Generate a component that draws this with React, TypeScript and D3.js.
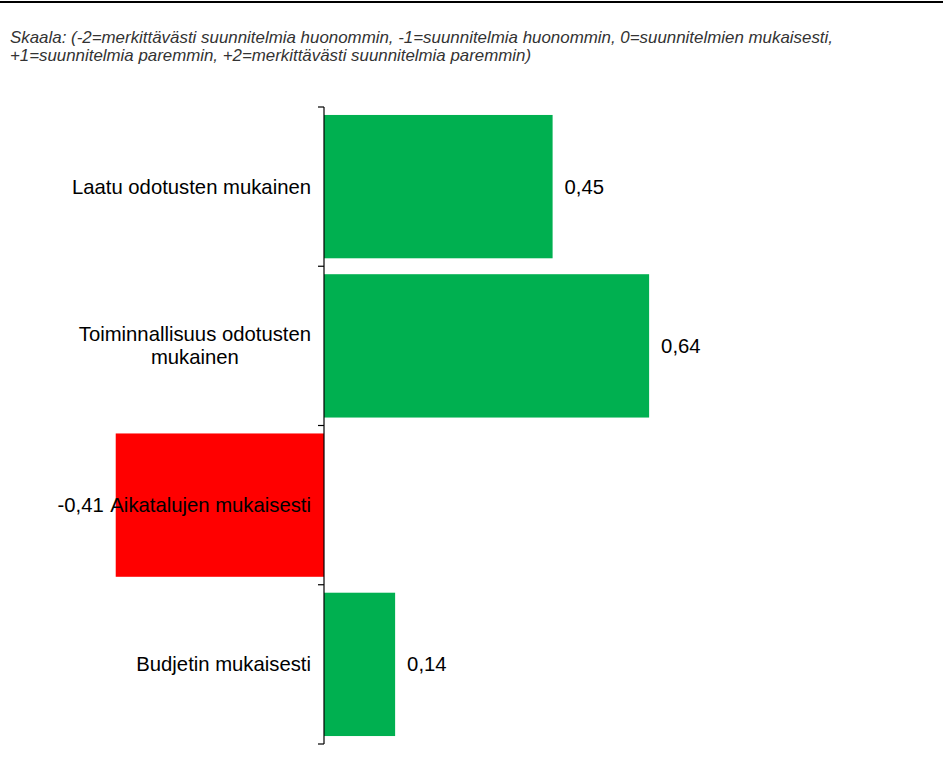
import * as d3 from 'd3';
import React, { useEffect, useRef } from 'react';

const categories = [
    ['Laatu odotusten mukainen'],
    ['Toiminnallisuus odotusten', 'mukainen'],
    ['Aikatalujen mukaisesti'],
    ['Budjetin mukaisesti'],
];
const values = [0.45, 0.64, -0.41, 0.14];
const captionLines = [
    'Skaala: (-2=merkittävästi suunnitelmia huonommin, -1=suunnitelmia huonommin, 0=suunnitelmien mukaisesti,',
    '+1=suunnitelmia paremmin, +2=merkittävästi suunnitelmia paremmin)',
];
const captionWidths = [823, 521];

const App: React.FC = () => {
    const svgRef = useRef<SVGSVGElement>(null);

    useEffect(() => {
        if (!svgRef.current) return;
        d3.select(svgRef.current).selectAll('*').remove();

        const width = 944;
        const height = 767;
        const svg = d3.select(svgRef.current)
            .attr('width', width)
            .attr('height', height);

        svg.append('rect').attr('width', width).attr('height', height).attr('fill', '#fff');

        // Frame line at top
        svg.append('line')
            .attr('x1', 0).attr('x2', 943)
            .attr('y1', 2).attr('y2', 2)
            .attr('stroke', '#000').attr('stroke-width', 2);

        // Caption (condensed italic)
        captionLines.forEach((line, i) => {
            svg.append('text')
                .attr('x', 10)
                .attr('y', 43 + i * 18)
                .attr('font-family', '"Liberation Sans Narrow", "Arial Narrow", "Liberation Sans", Arial, sans-serif')
                .attr('font-style', 'italic')
                .attr('font-size', 16.5)
                .attr('textLength', captionWidths[i])
                .attr('lengthAdjust', 'spacingAndGlyphs')
                .attr('fill', '#333')
                .text(line);
        });

        const x = d3.scaleLinear().domain([-0.5, 1]).range([70, 832]);
        const y = d3.scaleBand<number>()
            .domain(d3.range(values.length))
            .range([107, 744])
            .paddingInner(0.1)
            .paddingOuter(0.05);

        const bandTop = (i: number) => 107 + i * (637 / values.length);

        // Bars
        svg.selectAll('rect.bar')
            .data(values)
            .join('rect')
            .attr('class', 'bar')
            .attr('x', d => x(Math.min(0, d)))
            .attr('width', d => Math.abs(x(d) - x(0)))
            .attr('y', (_, i) => y(i) as number)
            .attr('height', y.bandwidth())
            .attr('fill', d => d < 0 ? '#FF0000' : '#00B050');

        const font = '"Liberation Sans", Arial, sans-serif';
        const fontSize = 20.3;

        // Category labels
        categories.forEach((lines, i) => {
            const cy = bandTop(i) + 637 / values.length / 2;
            const t = svg.append('text')
                .attr('font-family', font)
                .attr('font-size', fontSize)
                .attr('fill', '#000')
                .attr('text-anchor', 'middle');
            lines.forEach((line, j) => {
                t.append('tspan')
                    .attr('x', 0)
                    .attr('y', cy + (j - (lines.length - 1) / 2) * 23)
                    .attr('dy', '0.35em')
                    .text(line);
            });
            // right-align the block next to the axis
            const bb = (t.node() as SVGTextElement).getBBox();
            t.attr('transform', `translate(${x(0) - 13 - (bb.x + bb.width)},0)`);
        });

        // Axis
        const axisX = x(0);
        svg.append('line')
            .attr('x1', axisX).attr('x2', axisX)
            .attr('y1', 107).attr('y2', 744)
            .attr('stroke', '#000').attr('stroke-width', 1.2);
        d3.range(values.length + 1).forEach(i => {
            const ty = bandTop(i);
            svg.append('line')
                .attr('x1', axisX - 6).attr('x2', axisX)
                .attr('y1', ty).attr('y2', ty)
                .attr('stroke', '#000').attr('stroke-width', 1.2);
        });

        // Value labels
        svg.selectAll('text.val')
            .data(values)
            .join('text')
            .attr('class', 'val')
            .attr('x', d => d < 0 ? x(d) - 12 : x(d) + 12)
            .attr('y', (_, i) => (y(i) as number) + y.bandwidth() / 2)
            .attr('dy', '0.35em')
            .attr('text-anchor', d => d < 0 ? 'end' : 'start')
            .attr('font-family', font)
            .attr('font-size', fontSize)
            .attr('fill', '#000')
            .text(d => d.toFixed(2).replace('.', ','));
    }, []);

    return (
        <svg ref={svgRef} style={{ position: 'absolute', left: 0, top: 0, display: 'block' }}></svg>
    );
};

export default App;
